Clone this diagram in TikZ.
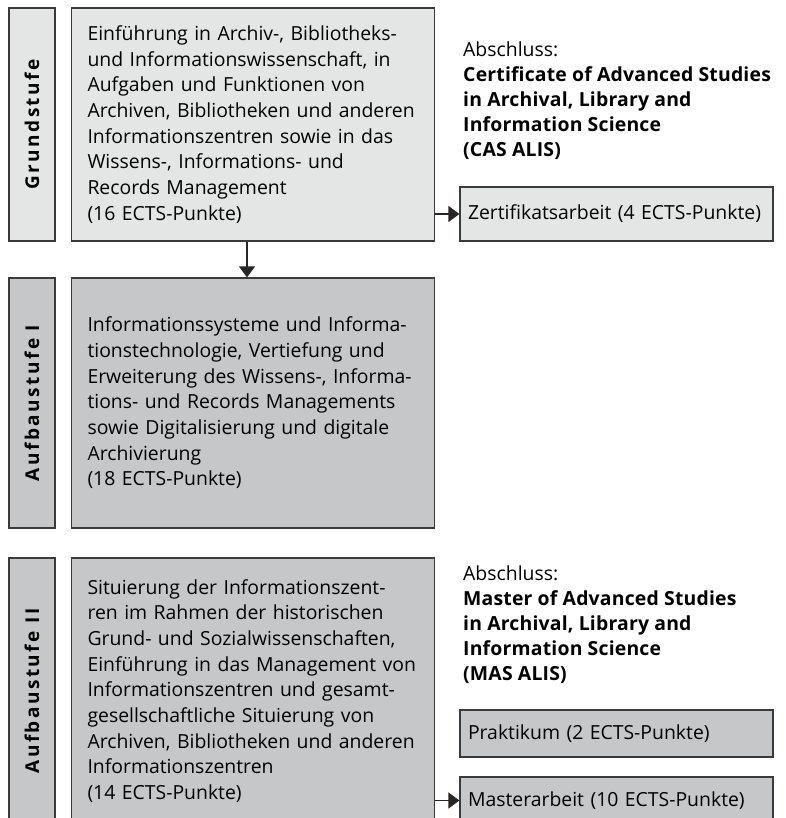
\documentclass[tikz,border=0pt]{standalone}
\usepackage{fontspec}
\setmainfont{Open Sans}
\usetikzlibrary{arrows.meta}

\definecolor{hellgrau}{HTML}{E4E5E5}
\definecolor{dunkelgrau}{HTML}{C6C7C8}
\definecolor{randgrau}{HTML}{3A3A3A}

\tikzset{
  kasten/.style={draw=randgrau, line width=1.2pt, rectangle, inner xsep=16pt, inner ysep=0pt,
    text width=331pt, align=left, font=\fontsize{19.4}{25.7}\selectfont},
  stufe/.style={draw=randgrau, line width=1.2pt, rectangle, rotate=90, minimum height=46pt,
    inner sep=0pt, font=\fontsize{19}{20}\selectfont\bfseries\addfontfeatures{LetterSpace=13}},
  klein/.style={draw=randgrau, line width=1.2pt, rectangle, inner xsep=8pt, inner ysep=0pt,
    text width=297pt, align=left, font=\fontsize{19.4}{22}\selectfont},
  abschluss/.style={inner sep=0pt, align=left, anchor=north west, font=\fontsize{19.4}{24.8}\selectfont},
  pfeil/.style={draw=black!85, line width=1.2pt, -{Triangle[width=16pt,length=11pt]}}
}

\begin{document}
\begin{tikzpicture}[x=1pt,y=-1pt]
  \useasboundingbox (0,0) rectangle (785,818);
  \clip (0,0) rectangle (785,818);

  %%%%% Grundstufe %%%%%
  \node[stufe, fill=hellgrau, minimum width=233pt] (gslab) at (32,124.5) {Grundstufe};
  \node[kasten, fill=hellgrau, minimum height=233pt] (gs) at (253,124.5) {Einführung in Archiv-, Bibliotheks-\\
    und Informationswissenschaft, in\\
    Aufgaben und Funktionen von\\
    Archiven, Bibliotheken und anderen\\
    Informationszentren sowie in das\\
    Wissens-, Informations- und\\
    Records Management\\
    (16 ECTS-Punkte)};

  \node[abschluss] (cas) at (463,42) {\textbf{\mdseries Abschluss:}\\
    \textbf{\addfontfeatures{LetterSpace=1}Certificate of Advanced Studies}\\
    \textbf{\addfontfeatures{LetterSpace=1}in Archival, Library and}\\
    \textbf{\addfontfeatures{LetterSpace=1}Information Science}\\
    \textbf{\addfontfeatures{LetterSpace=1}(CAS ALIS)}};
  \node[klein, fill=hellgrau, minimum height=54pt] (zert) at (616.5,214) {Zertifikatsarbeit (4 ECTS-Punkte)};

  %%%%% Aufbaustufe I %%%%%
  \node[stufe, fill=dunkelgrau, minimum width=250pt] (a1lab) at (32,403) {Aufbaustufe I};
  \node[kasten, fill=dunkelgrau, minimum height=250pt] (a1) at (253,403) {Informationssysteme und Informa-\\
    tionstechnologie, Vertiefung und\\
    Erweiterung des Wissens-, Informa-\\
    tions- und Records Managements\\
    sowie Digitalisierung und digitale\\
    Archivierung\\
    (18 ECTS-Punkte)};

  %%%%% Aufbaustufe II %%%%%
  \node[stufe, fill=dunkelgrau, minimum width=266pt] (a2lab) at (32,691) {Aufbaustufe II};
  \node[kasten, fill=dunkelgrau, minimum height=266pt] (a2) at (253,691) {Situierung der Informationszent-\\
    ren im Rahmen der historischen\\
    Grund- und Sozialwissenschaften,\\
    Einführung in das Management von\\
    Informationszentren und gesamt-\\
    gesellschaftliche Situierung von\\
    Archiven, Bibliotheken und anderen\\
    Informationszentren\\
    (14 ECTS-Punkte)};

  \node[abschluss] (mas) at (463,566) {\textbf{\mdseries Abschluss:}\\
    \textbf{\addfontfeatures{LetterSpace=1}Master of Advanced Studies}\\
    \textbf{\addfontfeatures{LetterSpace=1}in Archival, Library and}\\
    \textbf{\addfontfeatures{LetterSpace=1}Information Science}\\
    \textbf{\addfontfeatures{LetterSpace=1}(MAS ALIS)}};
  \node[klein, fill=dunkelgrau, minimum height=47pt] (prakt) at (616.5,733.5) {Praktikum (2 ECTS-Punkte)};
  \node[klein, fill=dunkelgrau, minimum height=47pt] (master) at (616.5,800.5) {Masterarbeit (10 ECTS-Punkte)};

  %%%%% Pfeile %%%%%
  \draw[pfeil] ([xshift=-6pt]gs.south) -- ([xshift=-6pt]a1.north);
  \draw[pfeil] (gs.east |- zert) -- (zert.west);
  \draw[pfeil] (a2.east |- master) -- (master.west);
\end{tikzpicture}
\end{document}
